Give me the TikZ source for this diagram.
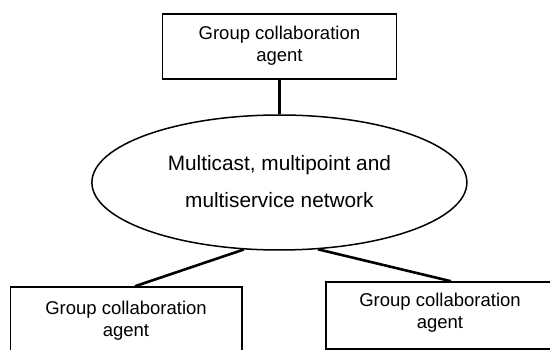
\documentclass[tikz,border=0pt]{standalone}
\usepackage{fontspec}
\setmainfont{Liberation Sans}
\usetikzlibrary{shapes.geometric, positioning}

\begin{document}
\begin{tikzpicture}[x=1pt, y=-1pt,
    agentbox/.style={draw, line width=1.5pt, minimum width=233pt, minimum height=65pt,
        inner sep=0pt, align=center, font=\fontsize{18.5}{22}\selectfont},
    netcloud/.style={draw, ellipse, line width=1.5pt, minimum width=375pt, minimum height=135pt,
        inner sep=0pt, align=center, font=\fontsize{20.8}{37}\selectfont},
    link/.style={line width=2.6pt}]
            % page
            \useasboundingbox (0,0) rectangle (550,350);
            \clip (0,0) rectangle (550,350);

            % agents and network
            \node[agentbox, minimum width=234pt] (top) at (279.4,46.5) {Group collaboration\\agent\\[-16pt]};
            \node[netcloud] (net) at (279.4,182.5) {Multicast, multipoint and\\multiservice network\\[-34pt]};
            \node[agentbox, minimum width=231.5pt, minimum height=72pt] (left) at (126,323) {Group collaboration\\agent\\[-13pt]};
            \node[agentbox, minimum width=260pt, minimum height=67pt] (right) at (456,315.5) {\hspace*{-32pt}Group collaboration\\\hspace*{-32pt}agent\\[-13pt]};

            % connectors
            \draw[link] (top.south) -- (net.north);
            \draw[link] (net.242) -- ([xshift=9pt]left.north);
            \draw[link] (net.300) -- ([xshift=-5pt]right.north);
        \end{tikzpicture}
\end{document}
